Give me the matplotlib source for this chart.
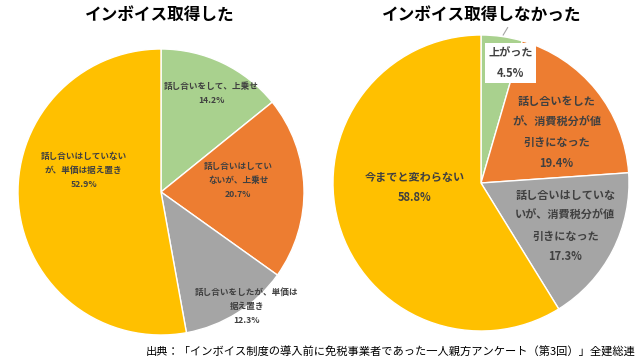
import matplotlib
matplotlib.use('Agg')
import matplotlib.pyplot as plt

plt.rcParams['font.family'] = ['Noto Sans CJK JP', 'DejaVu Sans']

# data
left_title = 'インボイス取得した'
left_labels = ['話し合いをして、上乗せ', '話し合いはしてい\nないが、上乗せ',
               '話し合いをしたが、単価は\n据え置き', '話し合いはしていない\nが、単価は据え置き']
left_values = [14.2, 20.7, 12.3, 52.9]

right_title = 'インボイス取得しなかった'
right_labels = ['上がった', '話し合いをした\nが、消費税分が値\n引きになった',
                '話し合いはしていな\nいが、消費税分が値\n引きになった', '今までと変わらない']
right_values = [4.5, 19.4, 17.3, 58.8]

colors = ['#A9D18E', '#ED7D31', '#A5A5A5', '#FFC000']
source = '出典：「インボイス制度の導入前に免税事業者であった一人親方アンケート（第3回）」全建総連'

# label positions in units of the pie radius
left_pos = [(0.35, 0.69), (0.54, 0.08), (0.60, -0.80), (-0.54, 0.15)]
right_pos = [(0.20, 0.81), (0.51, 0.34), (0.57, -0.29), (-0.45, -0.03)]

W, H = 640, 362
fig = plt.figure(figsize=(6.4, 3.62), dpi=100)


def pie_axes(cx, cy, r):
    ax = fig.add_axes([(cx - r) / W, (H - cy - r) / H, 2 * r / W, 2 * r / H])
    return ax


def draw_pie(ax, values):
    ax.pie(values, colors=colors, startangle=90, counterclock=False,
           wedgeprops=dict(edgecolor='white', linewidth=1.0))
    ax.set_xlim(-1, 1)
    ax.set_ylim(-1, 1)
    ax.set_aspect('equal')
    ax.axis('off')


ax1 = pie_axes(161, 192, 143)
draw_pie(ax1, left_values)
for lab, v, (x, y) in zip(left_labels, left_values, left_pos):
    ax1.text(x, y, f'{lab}\n{v}%', ha='center', va='center', fontsize=6.2,
             fontweight='bold', color='#404040', linespacing=1.7)

ax2 = pie_axes(481, 183, 148)
draw_pie(ax2, right_values)
for i, (lab, v, (x, y)) in enumerate(zip(right_labels, right_values, right_pos)):
    box = None
    if i == 0:
        ax2.plot([0.15, 0.18], [1.0, 1.05], color='#A5A5A5', lw=0.8, clip_on=False)
        box = dict(boxstyle='square,pad=0.3', fc='white', ec='none')
    ax2.text(x, y, f'{lab}\n{v}%', ha='center', va='center', fontsize=8,
             fontweight='bold', color='#404040', linespacing=1.75, bbox=box)

fig.text(160 / W, 1 - 16 / H, left_title, ha='center', va='center',
         fontsize=12, fontweight='bold', color='black')
fig.text(482 / W, 1 - 16 / H, right_title, ha='center', va='center',
         fontsize=12, fontweight='bold', color='black')
fig.text(636 / W, 1 - 352 / H, source, ha='right', va='center',
         fontsize=8.1, color='black')

fig.savefig('out.png', dpi=100)
